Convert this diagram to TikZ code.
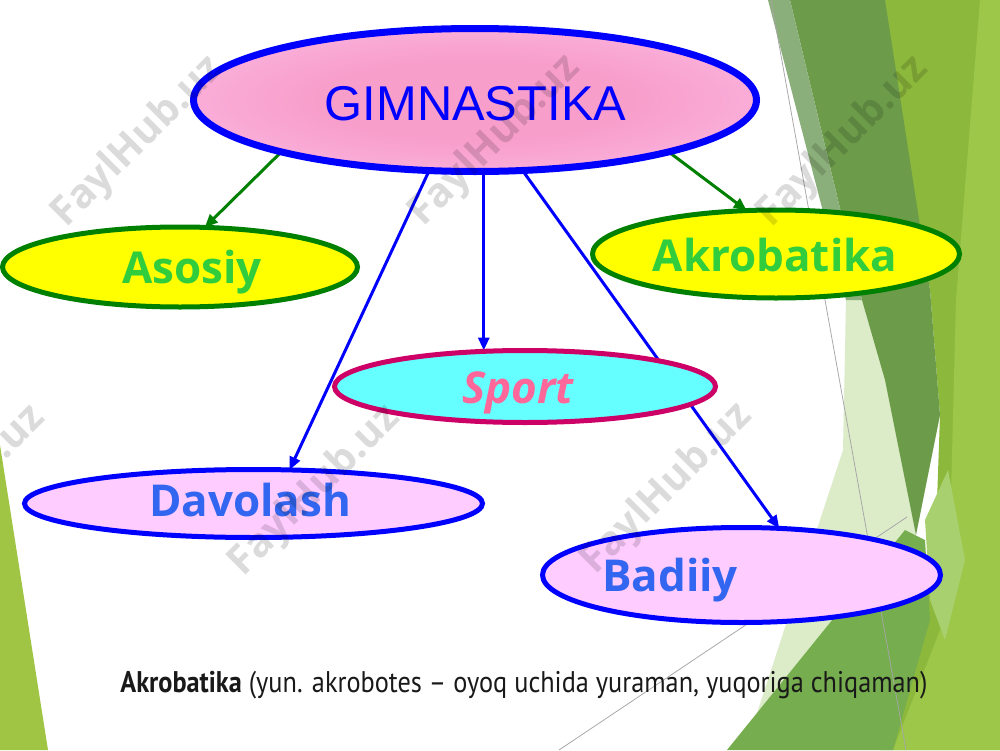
\documentclass[tikz,border=0pt]{standalone}
\usepackage{fontspec}
\setmainfont{Liberation Sans}
\newfontfamily\osans{Open Sans}
\newfontfamily\ptsans{PT Sans}
\usetikzlibrary{shapes.geometric,arrows.meta}
\pgfdeclarelayer{bg}
\pgfdeclarelayer{edges}
\pgfdeclarelayer{fg}
\pgfsetlayers{bg,edges,main,fg}
\definecolor{gblue}{RGB}{0,0,255}
\definecolor{dgreen}{RGB}{0,128,0}
\definecolor{lgreen}{RGB}{50,205,60}
\definecolor{yel}{RGB}{255,255,0}
\definecolor{cyanf}{RGB}{102,255,255}
\definecolor{crim}{RGB}{204,0,102}
\definecolor{pinkt}{RGB}{255,102,153}
\definecolor{lpink}{RGB}{255,204,255}
\definecolor{btext}{RGB}{51,102,240}
\definecolor{pinkin}{RGB}{248,158,203}
\definecolor{pinkout}{RGB}{253,198,238}
\definecolor{fA}{RGB}{140,185,60}
\definecolor{fB}{RGB}{156,199,73}
\definecolor{fC}{RGB}{139,175,122}
\definecolor{fD}{RGB}{108,155,74}
\definecolor{fE}{RGB}{220,235,200}
\definecolor{fF}{RGB}{118,173,78}
\definecolor{fG}{RGB}{168,208,110}
\definecolor{fH}{RGB}{160,197,68}
\pgfdeclareradialshading{gimshade}{\pgfpoint{0bp}{0bp}}{color(0bp)=(pinkin); color(14bp)=(pinkin); color(44bp)=(pinkout); color(50bp)=(pinkout)}
\tikzset{
  ell/.style={ellipse, inner sep=0pt, outer sep=0pt},
  gim/.style={ell, draw=gblue, line width=1.4mm, shade, shading=gimshade},
  yell/.style={ell, draw=dgreen, line width=1mm, fill=yel},
  sportell/.style={ell, draw=crim, line width=1mm, fill=cyanf},
  pinkell/.style={ell, draw=gblue, line width=1mm, fill=lpink},
  gtext/.style={font=\fontsize{27.8}{30}\selectfont, text=gblue, inner sep=0pt, anchor=base},
  lbl/.style={font=\osans\bfseries\fontsize{25}{28}\selectfont, inner sep=0pt, anchor=base},
  garrow/.style={draw=dgreen, line width=0.6mm, -{Triangle[length=2.6mm,width=2.2mm]}},
  barrow/.style={draw=gblue, line width=0.6mm, -{Triangle[length=2.6mm,width=2.2mm]}},
  wm/.style={font=\osans\bfseries\fontsize{23}{25}\selectfont, text=black, text opacity=0.14, rotate=45, inner sep=0pt},
  thin/.style={draw=black!35, line width=0.15mm}
}
\begin{document}
\begin{tikzpicture}[x=0.2mm,y=-0.2mm]
\useasboundingbox (0,0) rectangle (1000,750);
\clip (0,0) rectangle (1000,750);
\begin{pgfonlayer}{bg}
  \fill[white] (0,0) rectangle (1000,750);
  \fill[fA] (883,0) -- (1000,0) -- (1000,750) -- (880,750) -- (935,560) -- (940,415) -- (930,290) -- cycle;
  \fill[fB] (980,0) -- (1000,0) -- (1000,750) -- (893,750) -- (948,610) -- (956,300) -- cycle;
  \fill[fE] (846,300) -- (880,300) -- (916,535) -- (745,750) -- (820,520) -- (843,450) -- cycle;
  \fill[fD] (790,0) -- (885,0) -- (930,290) -- (940,415) -- (916,535) -- (885,380) -- (862,300) -- cycle;
  \fill[fC] (768,0) -- (790,0) -- (862,300) -- (846,300) -- cycle;
  \fill[fF] (727,750) -- (905,530) -- (925,540) -- (930,620) -- (893,750) -- cycle;
  \fill[fG] (925,520) -- (948,470) -- (965,560) -- (945,640) -- (930,600) -- cycle;
  \draw[thin] (771,0) -- (906,750);
  \draw[thin] (907,517) -- (559,750);
  \fill[fH] (0,445) -- (48,750) -- (0,750) -- cycle;
\end{pgfonlayer}

\node[gim, minimum width=563*0.2mm, minimum height=143*0.2mm] (G) at (475,100) {};
\node[yell, minimum width=355*0.2mm, minimum height=80*0.2mm] (As) at (180,267) {};
\node[yell, minimum width=367*0.2mm, minimum height=88*0.2mm] (Ak) at (776,254) {};
\node[sportell, minimum width=381*0.2mm, minimum height=72*0.2mm] (Sp) at (525,386.5) {};
\node[pinkell, minimum width=458*0.2mm, minimum height=68*0.2mm] (Dv) at (253.5,503.5) {};
\node[pinkell, minimum width=398*0.2mm, minimum height=95*0.2mm] (Bd) at (741.5,575) {};

\node[gtext] (Gt) at (475.5,120) {GIMNASTIKA};
\node[lbl, text=lgreen] (Ast) at (192,283) {Asosiy};
\node[lbl, text=lgreen] (Akt) at (775,271) {Akrobatika};
\node[lbl, text=pinkt, font=\osans\bfseries\itshape\fontsize{25}{28}\selectfont] (Spt) at (518,403) {Sport};
\node[lbl, text=btext] (Dvt) at (250,516) {Davolash};
\node[lbl, text=btext] (Bdt) at (670,591) {Badiiy};

\node[anchor=base west, inner sep=0pt, font=\ptsans\fontsize{17}{19}\selectfont, text=black!90] (note) at (120,692)
  {\scalebox{0.88}[1]{\textbf{Akrobatika} (yun. akrobotes – oyoq uchida yuraman, yuqoriga chiqaman)}};

\begin{pgfonlayer}{edges}
  \draw[garrow] (G.195) -- (As.58);
  \draw[garrow] (G.345) -- (Ak.124);
  \draw[barrow] (G.237) -- (Dv.43);
  \draw[barrow] (G.277) -- (G.277 |- Sp.north);
  \draw[barrow] (G.304) -- (Bd.51);
\end{pgfonlayer}

\begin{pgfonlayer}{fg}
  \node[wm] (w1) at (138,142) {FaylHub.uz};
  \node[wm] (w2) at (495,141) {FaylHub.uz};
  \node[wm] (w3) at (843,142) {FaylHub.uz};
  \node[wm] (w4) at (-40,491) {FaylHub.uz};
  \node[wm] (w5) at (315,491) {FaylHub.uz};
  \node[wm] (w6) at (667,489) {FaylHub.uz};
\end{pgfonlayer}
\end{tikzpicture}
\end{document}
